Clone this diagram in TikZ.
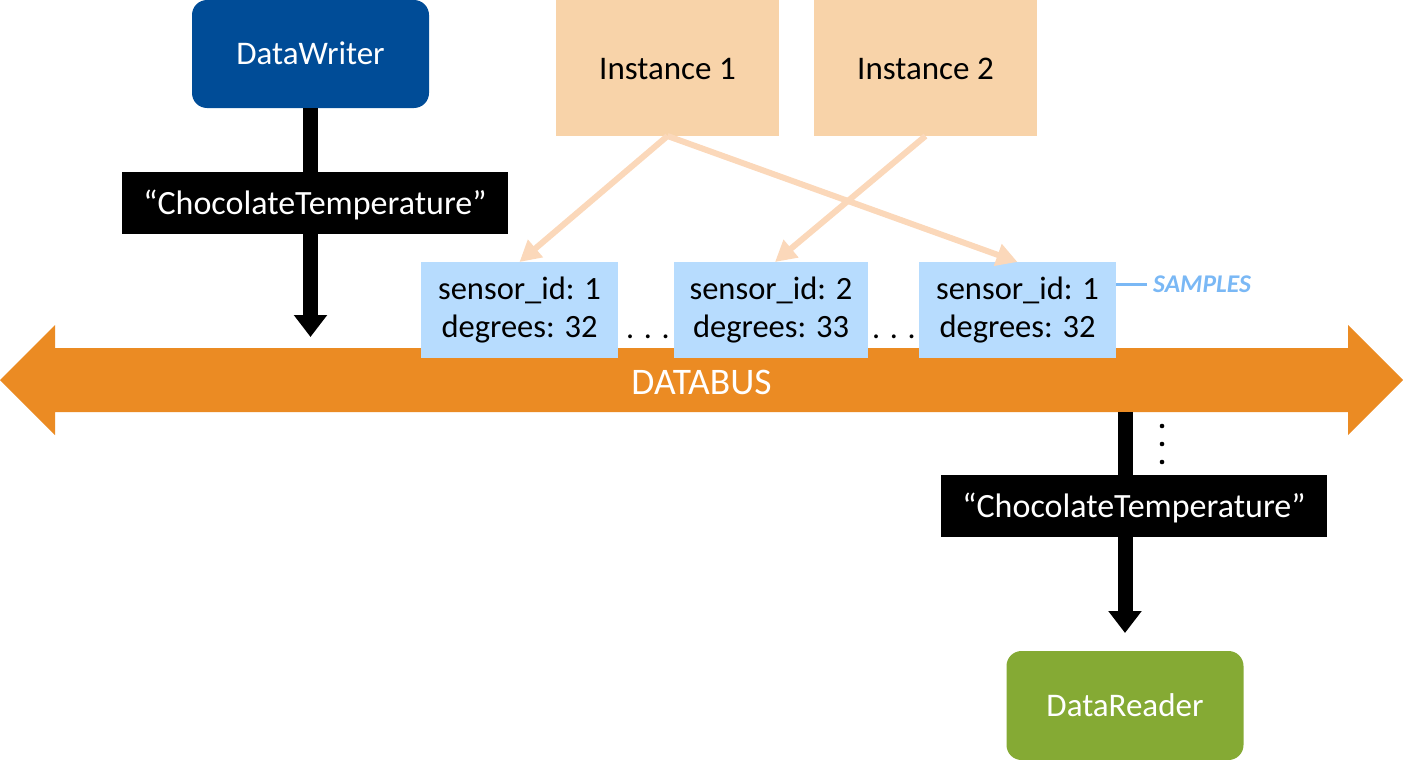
\documentclass[tikz,border=0pt]{standalone}
\usepackage{fontspec}
\setmainfont{Carlito}
\usetikzlibrary{arrows.meta}
\definecolor{dwblue}{RGB}{0,76,151}
\definecolor{drgreen}{RGB}{133,170,52}
\definecolor{peach}{RGB}{248,211,169}
\definecolor{peachline}{RGB}{251,216,186}
\definecolor{sampleblue}{RGB}{183,220,254}
\definecolor{busorange}{RGB}{235,139,35}
\definecolor{samplelabel}{RGB}{122,184,245}
\begin{document}
\begin{tikzpicture}[x=1pt,y=-1pt,
  every node/.style={inner sep=0pt, outer sep=0pt},
  base/.style={font=\fontsize{33}{40}\selectfont, text height=24pt, text depth=2pt},
  entity/.style={base, rounded corners=15pt, text=white, minimum width=237pt, minimum height=108pt},
  instbox/.style={base, fill=peach, minimum width=223pt, minimum height=136pt},
  sample/.style={font=\fontsize{32.5}{38}\selectfont,
    fill=sampleblue, minimum height=96pt, align=center},
  topic/.style={base, font=\fontsize{34}{40}\selectfont, fill=black, text=white, minimum width=386pt, minimum height=62pt},
  dotfont/.style={font=\fontsize{32}{40}\selectfont},
  wire/.style={line width=15pt},
  wirearrow/.style={line width=15pt, -{Triangle[width=32pt,length=22pt]}},
  link/.style={draw=peachline, line width=6pt, -{Triangle[width=22pt,length=21pt]}},
]
\useasboundingbox (0,0) rectangle (1403,760);

% bus
\fill[busorange] (0,380) -- (55,325) -- (55,348) -- (1348,348) -- (1348,325) -- (1403,380)
  -- (1348,435) -- (1348,412) -- (55,412) -- (55,435) -- cycle;
\node[text=white, font=\fontsize{37.5}{40}\selectfont, text height=26pt, text depth=2pt] (bus) at (701.5,382) {DATABUS};

% entities
\node[entity, fill=dwblue] (dw) at (310.5,54) {DataWriter};
\node[entity, fill=drgreen, minimum height=109pt] (dr) at (1125,705.5) {DataReader};

% topics
\node[topic] (t1) at (315,203) {“ChocolateTemperature”};
\node[topic] (t2) at (1134,506) {“ChocolateTemperature”};

% instances
\node[instbox] (i1) at (667.5,68) {Instance 1};
\node[instbox] (i2) at (925.5,68) {Instance 2};

% samples
\node[sample, minimum width=197pt] (s1) at (519.5,310) {sensor\_id: 1\\degrees: 32};
\node[sample, minimum width=194pt] (s2) at (771,310) {sensor\_id: 2\\degrees: 33};
\node[sample, minimum width=197pt] (s3) at (1017.5,310) {sensor\_id: 1\\degrees: 32};

% instance links
\draw[link] (i1.south) -- (s1.north);
\draw[link] (i1.south) -- (s3.north);
\draw[link] (i2.south) -- ([xshift=4pt]s2.north);

\node[dotfont] (dots1) at (648,337) {. . .};
\node[dotfont] (dots2) at (894,337) {. . .};

% samples label
\node[anchor=west, text=samplelabel, font=\fontsize{25.5}{28}\selectfont\bfseries\itshape] (smp) at (1153,284) {SAMPLES};
\draw[samplelabel, line width=3pt] ([xshift=-6pt]smp.west) -- (s3.east |- smp.west);

% writer wires
\coordinate (w1end) at (310.5,337);
\draw[wire] (dw.south) -- (dw.south |- t1.north);
\draw[wirearrow] (dw.south |- t1.south) -- (w1end);

% reader wires
\coordinate (busout) at (1125,412);
\draw[wire] (busout) -- (busout |- t2.north);
\draw[wirearrow] (t2.south -| dr.north) -- ([yshift=18pt]dr.north);

% vertical ellipsis
\foreach \yy in {426,444,462} \fill (1162,\yy) circle (2.3pt);
\end{tikzpicture}
\end{document}
